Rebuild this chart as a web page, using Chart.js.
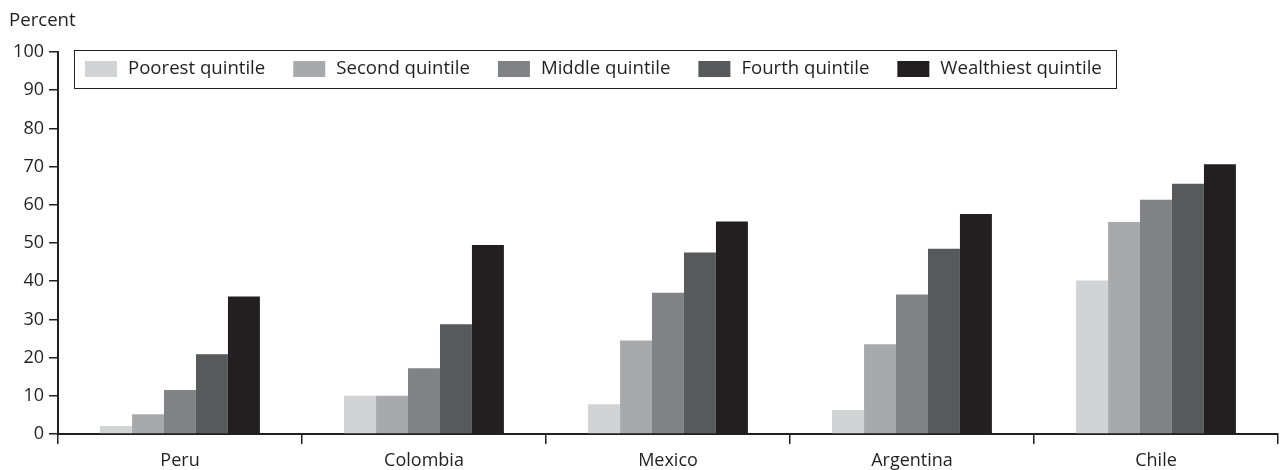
<!DOCTYPE html>
<html>
<head>
<meta charset="utf-8">
<script src="https://cdn.jsdelivr.net/npm/chart.js@4/dist/chart.umd.min.js"></script>
<style>
  html, body { margin: 0; padding: 0; background: #fff; }
  #wrap { width: 1280px; height: 470px; position: relative; }
</style>
</head>
<body>
<div id="wrap"><canvas id="quintileChart"></canvas></div>
<script>
// Data
const countries = ['Peru', 'Colombia', 'Mexico', 'Argentina', 'Chile'];
const quintiles = ['Poorest quintile', 'Second quintile', 'Middle quintile', 'Fourth quintile', 'Wealthiest quintile'];
const poorest = [2.1, 10, 7.8, 6.3, 40.2];
const second = [5.2, 10, 24.5, 23.5, 55.5];
const middle = [11.5, 17.2, 37, 36.5, 61.3];
const fourth = [20.9, 28.7, 47.5, 48.5, 65.5];
const wealthiest = [36, 49.5, 55.6, 57.6, 70.6];
const yTicks = [0, 10, 20, 30, 40, 50, 60, 70, 80, 90, 100];

const colors = ['#d1d3d4', '#a7a9ac', '#808285', '#58595b', '#231f20'];
const textColor = '#231f20';
const fontFamily = '"Open Sans", "Noto Sans", sans-serif';
const fontSize = 18;
const legendFontSize = 18.6;

const seriesValues = [poorest, second, middle, fourth, wealthiest];

// Boxed legend drawn inside the plot
const boxedLegend = {
  id: 'boxedLegend',
  afterDraw(chart) {
    const ctx = chart.ctx;
    ctx.save();
    ctx.font = legendFontSize + 'px ' + fontFamily;
    ctx.textBaseline = 'middle';
    ctx.textAlign = 'left';

    const boxLeft = 74, boxTop = 50, boxRight = 1116, boxBottom = 88;
    ctx.strokeStyle = textColor;
    ctx.lineWidth = 1;
    ctx.strokeRect(boxLeft + 0.5, boxTop + 0.5, boxRight - boxLeft, boxBottom - boxTop);

    let x = 85;
    const midY = 69;
    chart.data.datasets.forEach(ds => {
      ctx.fillStyle = ds.backgroundColor;
      ctx.fillRect(x, midY - 8, 32, 16);
      ctx.fillStyle = textColor;
      ctx.fillText(ds.label, x + 43, midY);
      x += 43 + ctx.measureText(ds.label).width + 28;
    });

    // axis caption
    ctx.fillText('Percent', 9, 21);
    ctx.restore();
  }
};

function createChart() {
  const ctx = document.getElementById('quintileChart').getContext('2d');

  return new Chart(ctx, {
    type: 'bar',
    data: {
      labels: countries,
      datasets: quintiles.map((q, i) => ({
        label: q,
        data: seriesValues[i],
        backgroundColor: colors[i],
        borderWidth: 0,
        categoryPercentage: 0.655,
        barPercentage: 1
      }))
    },
    options: {
      responsive: true,
      maintainAspectRatio: false,
      animation: false,
      layout: {
        padding: { top: 52, right: 2, bottom: 0, left: 0 }
      },
      scales: {
        x: {
          grid: {
            display: true,
            offset: true,
            drawOnChartArea: false,
            drawTicks: true,
            tickLength: 10,
            color: textColor,
            lineWidth: 1.5
          },
          border: { display: true, color: textColor, width: 2 },
          ticks: {
            color: textColor,
            font: { family: fontFamily, size: fontSize },
            padding: 6
          },
          afterFit: scale => { scale.height = 36; }
        },
        y: {
          min: 0,
          max: 100,
          afterBuildTicks: scale => {
            scale.ticks = yTicks.map(v => ({ value: v }));
          },
          grid: {
            display: true,
            drawOnChartArea: false,
            drawTicks: true,
            tickLength: 9,
            color: textColor,
            lineWidth: 1.5
          },
          border: { display: true, color: textColor, width: 2 },
          ticks: {
            color: textColor,
            font: { family: fontFamily, size: fontSize },
            padding: 5
          },
          afterFit: scale => { scale.width = 58; }
        }
      },
      plugins: {
        legend: { display: false },
        tooltip: { enabled: false }
      }
    },
    plugins: [boxedLegend]
  });
}

document.addEventListener('DOMContentLoaded', () => {
  createChart();
});
</script>
</body>
</html>
